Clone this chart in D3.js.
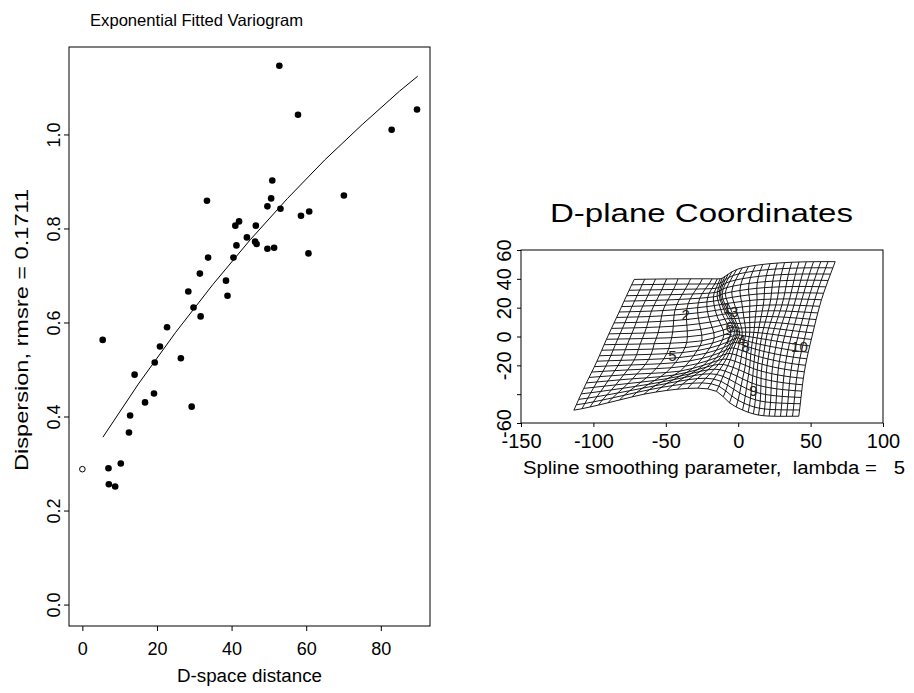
<!DOCTYPE html>
<html>
<head>
<meta charset="utf-8">
<script src="https://cdn.jsdelivr.net/npm/d3@7"></script>
<style>
  body { margin: 0; background: #fff; }
  text { font-family: "Liberation Sans", Arial, sans-serif; fill: #000; }
</style>
</head>
<body>
<svg id="chart" width="914" height="693"></svg>
<script>
// ---- variogram panel data ----
const pairDist = [52.8, 57.8, 82.9, 89.7, 50.9, 50.6, 33.4, 70.1, 49.6, 53.1, 58.6, 60.8, 42.0, 41.0, 46.5,
  44.1, 46.3, 46.7, 41.3, 49.6, 51.4, 60.6, 33.7, 40.5, 31.5, 38.5, 28.4, 38.9, 29.8, 31.7,
  22.7, 5.45, 20.8, 26.4, 19.4, 14.0, 19.2, 16.8, 29.3, 12.8, 12.5, 10.3, 7.0, 7.1, 8.8];
const pairDisp = [1.146, 1.042, 1.010, 1.053, 0.902, 0.864, 0.859, 0.870, 0.847, 0.842, 0.827, 0.836, 0.815, 0.806, 0.806,
  0.781, 0.772, 0.767, 0.764, 0.757, 0.759, 0.747, 0.738, 0.738, 0.704, 0.689, 0.666, 0.657, 0.632, 0.613,
  0.590, 0.563, 0.549, 0.524, 0.515, 0.489, 0.449, 0.430, 0.421, 0.402, 0.366, 0.300, 0.290, 0.256, 0.251];
const nuggetDist = [0];
const nuggetDisp = [0.288];
const fitDist = [5.5, 15, 25, 35, 45, 55, 65, 75, 85, 89.9];
const fitDisp = [0.356, 0.469, 0.579, 0.681, 0.776, 0.864, 0.946, 1.021, 1.092, 1.124];
const varTicksX = [0, 20, 40, 60, 80];
const varTicksY = [0, 0.2, 0.4, 0.6, 0.8, 1.0];

// ---- D-plane panel data ----
const siteNames = ["1", "2", "3", "4", "5", "6", "7", "8", "9", "10"];
const siteX = [-7.6, -36.2, -2.8, 2.3, -45.4, -5.9, -6.9, 5.1, 10.5, 42.3];
const siteY = [19.8, 15.1, 17.2, -2.3, -13.3, 6.8, -1.3, -7.2, -37.8, -7.0];
const gridCols = 28, gridRows = 24;
// control nodes of the warped grid: column index, row index, D-plane x, D-plane y
const ctrlU = [0, 0, 0, 0, 0,   4, 7, 10, 14, 18, 22, 28,   28, 28, 28, 28,   4, 7, 11, 14, 16, 18, 21,
  14, 14, 14, 14, 14, 14, 14, 14,   10, 10, 10,   7, 7, 7,   4, 4, 4,   21, 21, 21,   17, 17, 17];
const ctrlV = [0, 6, 12, 18, 24,   24, 24, 24, 24, 24, 24, 24,   18, 12, 6, 0,   0, 0, 0, 0, 0, 0, 0,
  4, 8, 10, 12, 14, 16, 18, 20,   18, 12, 6,   18, 12, 6,   18, 12, 6,   18, 12, 6,   18, 12, 6];
const ctrlX = [-113.5, -103, -92.6, -82.2, -71.8,   -41.5, -18, -11, -1, 17, 37, 67,   57.5, 50.5, 45, 41.8,
  -90, -65, -35, -15, -6, 3, 14,   -9, -3, 0, 1, -1, -4, -7, -9,   -13, -5, -18,   -28, -25, -40,
  -52, -58, -70,   27, 20, 16,   8, 8, 5];
const ctrlY = [-51.1, -28.4, -5.7, 17, 39.6,   40, 40, 40.5, 46.5, 50, 51.5, 51.9,   25.5, -2, -29, -55.3,
  -46, -40, -36, -38, -46, -51, -54.5,   -24, -8, -1, 3, 9, 16, 23, 30,   22, 3, -18,   20, -3, -24,
  18, -5, -26,   26, 2, -24,   25, 3, -20];
const dTicksX = [-150, -100, -50, 0, 50, 100];
const dTicksY = [-60, -40, -20, 0, 20, 40, 60];
const dTickLabelsY = ["-60", "", "-20", "0", "20", "40", "60"];

const svg = d3.select("#chart");

// ================= left panel =================
const vx = d3.scaleLinear().domain([-3.58, 93.18]).range([69, 430]);
const vy = d3.scaleLinear().domain([-0.0456, 1.186]).range([626, 47]);

const left = svg.append("g");
left.append("rect")
  .attr("x", 69).attr("y", 47).attr("width", 361).attr("height", 579)
  .attr("fill", "none").attr("stroke", "#000").attr("stroke-width", 1);

const vxAxis = left.append("g").attr("transform", "translate(0,626)")
  .call(d3.axisBottom(vx).tickValues(varTicksX).tickSize(5).tickPadding(11).tickFormat(d => String(d)));
vxAxis.select(".domain").remove();
vxAxis.selectAll("text").style("font-size", "18px");

const vyAxis = left.append("g").attr("transform", "translate(69,0)")
  .call(d3.axisLeft(vy).tickValues(varTicksY).tickSize(5).tickFormat(d3.format(".1f")));
vyAxis.select(".domain").remove();
vyAxis.selectAll("text")
  .attr("x", null).attr("dy", null)
  .attr("y", -9)
  .attr("transform", "rotate(-90)")
  .style("text-anchor", "middle")
  .style("font-size", "18px");

left.append("path")
  .datum(fitDist.map((d, i) => [d, fitDisp[i]]))
  .attr("fill", "none").attr("stroke", "#000").attr("stroke-width", 1)
  .attr("d", d3.line().x(d => vx(d[0])).y(d => vy(d[1])));

left.selectAll(".pt")
  .data(pairDist.map((d, i) => [d, pairDisp[i]]))
  .enter().append("circle")
  .attr("cx", d => vx(d[0])).attr("cy", d => vy(d[1]))
  .attr("r", 3.3).attr("fill", "#000");

left.selectAll(".nug")
  .data(nuggetDist.map((d, i) => [d, nuggetDisp[i]]))
  .enter().append("circle")
  .attr("cx", d => vx(d[0])).attr("cy", d => vy(d[1]))
  .attr("r", 2.8).attr("fill", "#fff").attr("stroke", "#000").attr("stroke-width", 1);

left.append("text").attr("x", 196.5).attr("y", 26)
  .attr("textLength", 213).attr("lengthAdjust", "spacingAndGlyphs")
  .style("text-anchor", "middle").style("font-size", "16.5px")
  .text("Exponential Fitted Variogram");
left.append("text").attr("x", 249.5).attr("y", 682)
  .attr("textLength", 145).attr("lengthAdjust", "spacingAndGlyphs")
  .style("text-anchor", "middle").style("font-size", "18px")
  .text("D-space distance");
left.append("text")
  .attr("transform", "translate(28,330) rotate(-90)")
  .attr("textLength", 282).attr("lengthAdjust", "spacingAndGlyphs")
  .style("text-anchor", "middle").style("font-size", "18px")
  .text("Dispersion, rmsre = 0.1711");

// ================= right panel =================
const dx = d3.scaleLinear().domain([-150, 100]).range([521, 883]);
const dy = d3.scaleLinear().domain([-60, 60]).range([423, 250]);

// thin plate spline through the control nodes
function tpsFit(us, vs, vals) {
  const n = us.length, m = n + 3;
  const kern = r => (r > 0 ? r * r * Math.log(r) : 0);
  const A = [];
  for (let i = 0; i < m; i++) A.push(new Array(m + 1).fill(0));
  for (let i = 0; i < n; i++) {
    for (let j = 0; j < n; j++) {
      A[i][j] = kern(Math.hypot(us[i] - us[j], vs[i] - vs[j]));
    }
    A[i][n] = 1; A[i][n + 1] = us[i]; A[i][n + 2] = vs[i];
    A[n][i] = 1; A[n + 1][i] = us[i]; A[n + 2][i] = vs[i];
    A[i][m] = vals[i];
  }
  // gaussian elimination
  for (let c = 0; c < m; c++) {
    let p = c;
    for (let r = c + 1; r < m; r++) if (Math.abs(A[r][c]) > Math.abs(A[p][c])) p = r;
    [A[c], A[p]] = [A[p], A[c]];
    for (let r = 0; r < m; r++) {
      if (r === c) continue;
      const f = A[r][c] / A[c][c];
      if (f === 0) continue;
      for (let k = c; k <= m; k++) A[r][k] -= f * A[c][k];
    }
  }
  const w = A.map((row, i) => row[m] / row[i]);
  return (u, v) => {
    let s = w[n] + w[n + 1] * u + w[n + 2] * v;
    for (let i = 0; i < n; i++) s += w[i] * kern(Math.hypot(u - us[i], v - vs[i]));
    return s;
  };
}

const warpX = tpsFit(ctrlU, ctrlV, ctrlX);
const warpY = tpsFit(ctrlU, ctrlV, ctrlY);

const nodes = d3.range(gridCols + 1).map(i =>
  d3.range(gridRows + 1).map(j => [warpX(i, j), warpY(i, j)]));

const right = svg.append("g");
const meshLine = d3.line().x(d => dx(d[0])).y(d => dy(d[1]));
const mesh = right.append("g").attr("fill", "none").attr("stroke", "#000").attr("stroke-width", 0.9);
for (let j = 0; j <= gridRows; j++) {
  mesh.append("path").attr("d", meshLine(nodes.map(col => col[j])));
}
for (let i = 0; i <= gridCols; i++) {
  mesh.append("path").attr("d", meshLine(nodes[i]));
}

right.selectAll(".site")
  .data(siteNames.map((s, i) => ({ s, x: siteX[i], y: siteY[i] })))
  .enter().append("text")
  .attr("x", d => dx(d.x)).attr("y", d => dy(d.y))
  .attr("dy", "0.36em")
  .style("text-anchor", "middle").style("font-size", "15px").style("fill", "#222")
  .text(d => d.s);

right.append("rect")
  .attr("x", 521).attr("y", 250).attr("width", 362).attr("height", 173)
  .attr("fill", "none").attr("stroke", "#000").attr("stroke-width", 1);

const dxAxis = right.append("g").attr("transform", "translate(0,423)")
  .call(d3.axisBottom(dx).tickValues(dTicksX).tickSize(4).tickPadding(7).tickFormat(d => String(d)));
dxAxis.select(".domain").remove();
dxAxis.selectAll("text").style("font-size", "20px");

const dyAxis = right.append("g").attr("transform", "translate(521,0)")
  .call(d3.axisLeft(dy).tickValues(dTicksY).tickSize(4).tickFormat((d, i) => dTickLabelsY[i]));
dyAxis.select(".domain").remove();
dyAxis.selectAll("text")
  .attr("x", null).attr("dy", null)
  .attr("y", -10)
  .attr("transform", "rotate(-90)")
  .style("text-anchor", "middle")
  .style("font-size", "20px");

right.append("text").attr("x", 701.5).attr("y", 222)
  .attr("textLength", 303).attr("lengthAdjust", "spacingAndGlyphs")
  .style("text-anchor", "middle").style("font-size", "26px")
  .text("D-plane Coordinates");
right.append("text").attr("x", 523).attr("y", 474)
  .attr("textLength", 382).attr("lengthAdjust", "spacingAndGlyphs")
  .style("white-space", "pre").style("font-size", "18px")
  .text("Spline smoothing parameter,  lambda =   5");
</script>
</body>
</html>
